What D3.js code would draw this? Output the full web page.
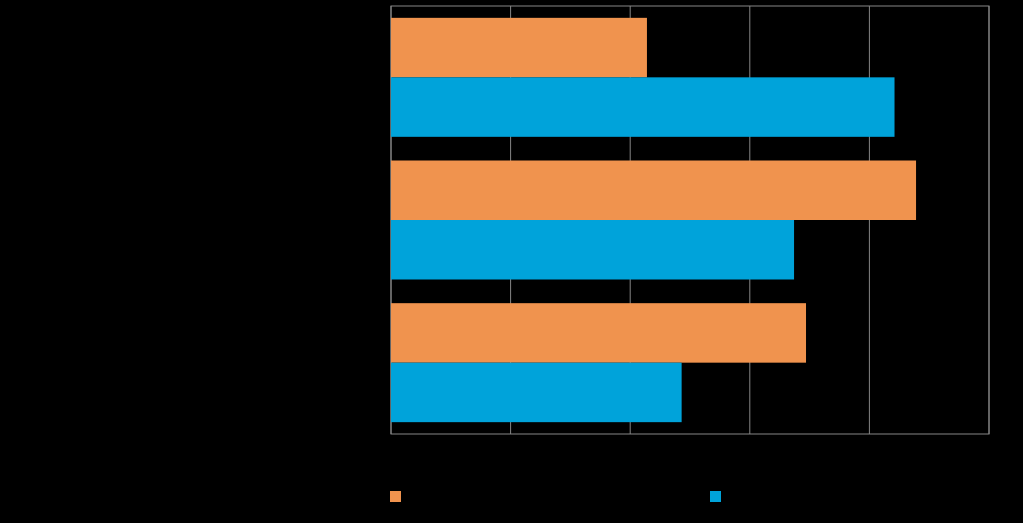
<!DOCTYPE html>
<html>
<head>
<meta charset="utf-8">
<script src="https://cdn.jsdelivr.net/npm/d3@7"></script>
<style>
  body { margin: 0; background: #000; }
  svg { display: block; font-family: "Liberation Sans", Arial, sans-serif; }
</style>
</head>
<body>
<div class="svg-target"></div>
<script>
// Data (labels are drawn black on black in the reference)
const categories = ['Category 1', 'Category 2', 'Category 3'];
const seriesNames = ['Series 1', 'Series 2'];
const series1 = [2.14, 4.39, 3.47];
const series2 = [4.21, 3.37, 2.43];
const xTicks = [0, 1, 2, 3, 4, 5];

const w = 1023;
const h = 523;
const colors = ['#F0934E', '#00A3DA'];

const margin = { top: 6, right: 34, bottom: 89, left: 391 };

const svg = d3.select('.svg-target')
    .append('svg')
    .attr('width', w)
    .attr('height', h);

svg.append('rect')
    .attr('width', w)
    .attr('height', h)
    .attr('fill', '#000');

const xScale = d3.scaleLinear()
    .domain([0, 5])
    .range([margin.left, w - margin.right]);

const yScale = d3.scaleBand()
    .domain(categories)
    .range([margin.top, h - margin.bottom])
    .paddingInner(0.166)
    .paddingOuter(0.083);

const subScale = d3.scaleBand()
    .domain(seriesNames)
    .range([0, yScale.bandwidth()]);

// gridlines
svg.append('g')
    .selectAll('line')
    .data(xTicks)
    .enter()
    .append('line')
        .attr('x1', d => xScale(d))
        .attr('x2', d => xScale(d))
        .attr('y1', margin.top)
        .attr('y2', h - margin.bottom)
        .attr('stroke', '#868686')
        .attr('stroke-width', 1);

// plot border
svg.append('rect')
    .attr('x', margin.left)
    .attr('y', margin.top)
    .attr('width', xScale(5) - margin.left)
    .attr('height', h - margin.bottom - margin.top)
    .attr('fill', 'none')
    .attr('stroke', '#868686')
    .attr('stroke-width', 1);

// bars
const rows = categories.map((c, i) => ({ cat: c, vals: [series1[i], series2[i]] }));

const groups = svg.selectAll('.group')
    .data(rows)
    .enter()
    .append('g')
        .attr('class', 'group')
        .attr('transform', d => `translate(0, ${yScale(d.cat)})`);

groups.selectAll('rect')
    .data(d => d.vals.map((v, j) => ({ name: seriesNames[j], v, j })))
    .enter()
    .append('rect')
        .attr('x', xScale(0))
        .attr('y', d => subScale(d.name))
        .attr('width', d => xScale(d.v) - xScale(0))
        .attr('height', subScale.bandwidth())
        .attr('fill', d => colors[d.j]);

// axes (text is black on black, as in the reference)
const xAxis = d3.axisBottom(xScale).tickValues(xTicks).tickSize(0).tickPadding(8);
svg.append('g')
    .attr('transform', `translate(0, ${h - margin.bottom})`)
    .call(xAxis)
    .call(g => g.select('.domain').remove())
    .call(g => g.selectAll('text').attr('fill', '#000').style('font-size', '13px'));

const yAxis = d3.axisLeft(yScale).tickSize(0).tickPadding(8);
svg.append('g')
    .attr('transform', `translate(${margin.left}, 0)`)
    .call(yAxis)
    .call(g => g.select('.domain').remove())
    .call(g => g.selectAll('text').attr('fill', '#000').style('font-size', '13px'));

// legend
const legendX = [390, 710];
const legend = svg.selectAll('.legend')
    .data(seriesNames)
    .enter()
    .append('g')
        .attr('class', 'legend')
        .attr('transform', (d, i) => `translate(${legendX[i]}, 491)`);

legend.append('rect')
    .attr('width', 11)
    .attr('height', 11)
    .attr('fill', (d, i) => colors[i]);

legend.append('text')
    .attr('x', 16)
    .attr('y', 10)
    .attr('fill', '#000')
    .style('font-size', '13px')
    .text(d => d);
</script>
</body>
</html>
